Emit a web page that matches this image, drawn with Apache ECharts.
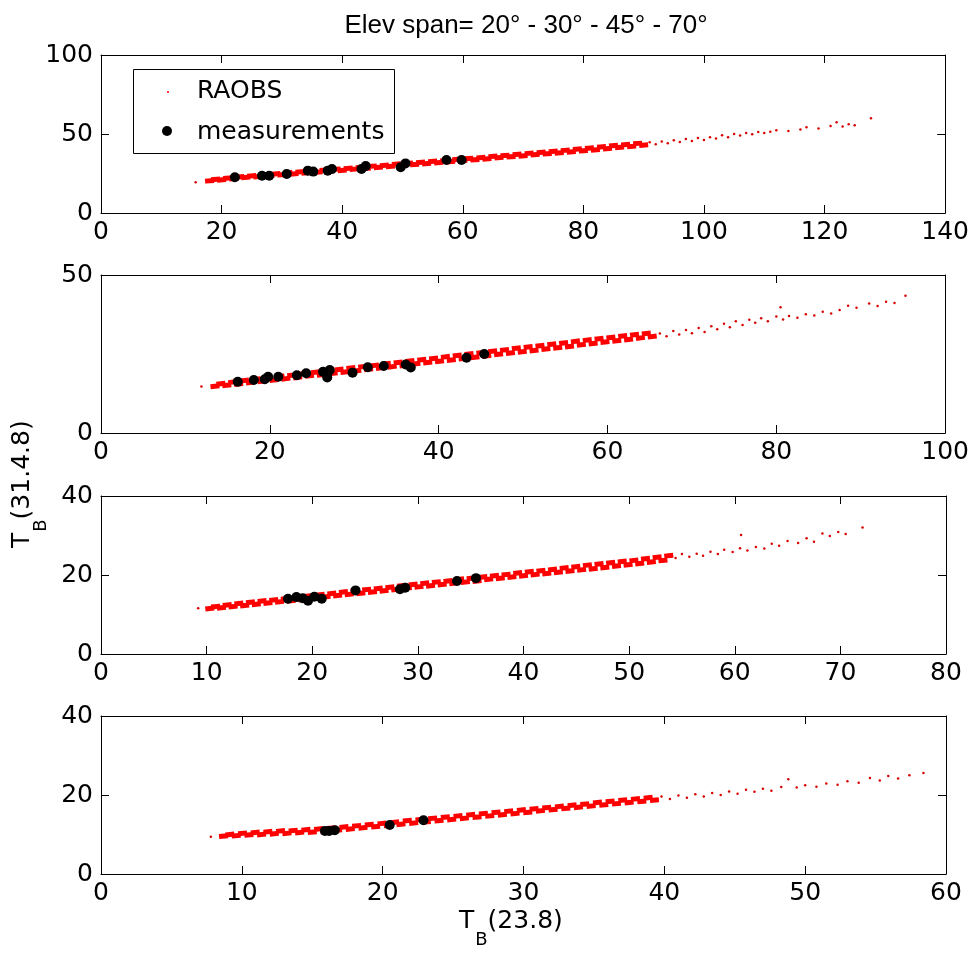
<!DOCTYPE html>
<html>
<head>
<meta charset="utf-8">
<script src="https://cdn.jsdelivr.net/npm/echarts@6/dist/echarts.min.js"></script>
<style>html,body{margin:0;padding:0;background:#fff;}#chart{width:972px;height:954px;}</style>
</head>
<body>
<div id="chart"></div>
<script>
// ---------------- DATA ----------------
const titleText = 'Elev span= 20° - 30° - 45° - 70°';
const xAxisMax = [140, 100, 80, 60];
const xAxisStep = [20, 20, 10, 10];
const yAxisMax = [100, 50, 40, 40];
const yAxisStep = [50, 50, 20, 20];

// Panel 1 RAOBS (dense core, then sparse tail)
const raobsDense1 = [[18,20.4],[19,21.3],[20,21.0],[21,22.1],[22,21.8],[23,22.9],[24,22.5],[25,23.5],[26,23.0],[27,24.1],[28,23.7],[29,24.8],[30,24.2],[31,25.4],[32,24.8],[33,26.0],[34,25.4],[35,26.5],[36,25.9],[37,27.1],[38,26.5],[39,27.7],[40,27.0],[41,28.3],[42,27.7],[43,28.9],[44,28.2],[45,29.6],[46,28.9],[47,30.2],[48,29.5],[49,30.9],[50,30.1],[51,31.4],[52,30.7],[53,32.1],[54,31.3],[55,32.7],[56,31.9],[57,33.2],[58,32.5],[59,33.9],[60,33.1],[61,34.5],[62,33.7],[63,35.1],[64,34.3],[65,35.8],[66,35.0],[67,36.4],[68,35.6],[69,37.1],[70,36.2],[71,37.8],[72,36.9],[73,38.4],[74,37.5],[75,39.0],[76,38.0],[77,39.7],[78,38.7],[79,40.4],[80,39.4],[81,41.1],[82,40.0],[83,41.8],[84,40.8],[85,42.6],[86,41.5],[87,43.3],[88,42.1],[89,44.0],[90,42.9]];
const raobsSparse1 = [[15.7,19.4],[91,44.8],[92,43.5],[93,45.2],[94,44.1],[95,46.0],[96,45.0],[97,46.8],[98,45.6],[99,47.5],[100,46.2],[101,48.0],[102,47.1],[103,49.2],[104,48.0],[105,50.0],[106,49.1],[107,50.6],[108,49.8],[109,51.2],[110,50.6],[111,51.4],[112,52.3],[114,51.9],[116,52.8],[117,54.2],[119,53.5],[121,55.0],[122,57.5],[123,54.8],[124,56.2],[125,55.5],[127.7,59.9]];
const meas1 = [[22.2,22.6],[26.7,23.6],[27.9,23.6],[30.8,24.7],[34.3,26.8],[35.2,26.2],[37.6,26.8],[38.3,27.8],[43.2,27.8],[43.9,29.7],[49.7,28.9],[50.5,31.4],[57.3,33.5],[59.8,33.5]];

// Panel 2
const raobsDense2 = [[13.5,14.8],[14.2,15.6],[14.9,15.1],[15.6,16.1],[16.3,15.5],[17.0,16.6],[17.7,16.0],[18.4,17.0],[19.1,16.4],[19.8,17.5],[20.5,16.8],[21.2,17.9],[21.9,17.2],[22.6,18.3],[23.3,17.6],[24.0,18.8],[24.7,18.1],[25.4,19.2],[26.1,18.4],[26.8,19.7],[27.5,18.9],[28.2,20.1],[28.9,19.3],[29.6,20.6],[30.3,19.7],[31.0,21.0],[31.7,20.2],[32.4,21.4],[33.1,20.6],[33.8,21.9],[34.5,21.0],[35.2,22.3],[35.9,21.4],[36.6,22.8],[37.3,21.9],[38.0,23.2],[38.7,22.3],[39.4,23.6],[40.1,22.7],[40.8,24.1],[41.5,23.1],[42.2,24.5],[42.9,23.6],[43.6,25.0],[44.3,24.0],[45.0,25.4],[45.7,24.4],[46.4,25.9],[47.1,24.9],[47.8,26.3],[48.5,25.3],[49.2,26.8],[49.9,25.7],[50.6,27.2],[51.3,26.1],[52.0,27.6],[52.7,26.6],[53.4,28.1],[54.1,27.0],[54.8,28.5],[55.5,27.4],[56.2,29.0],[56.9,27.9],[57.6,29.4],[58.3,28.3],[59.0,29.8],[59.7,28.8],[60.4,30.2],[61.1,29.2],[61.8,30.7],[62.5,29.6],[63.2,31.1],[63.9,30.1],[64.6,31.5],[65.3,30.5]];
const raobsSparse2 = [[11.9,14.7],[66.2,31.5],[67,30.6],[67.8,32.3],[68.5,31.2],[69.3,32.6],[70,31.6],[70.8,33.2],[71.5,32.0],[72.3,33.8],[73,32.8],[73.8,34.6],[74.5,33.5],[75.2,35.4],[76,34.2],[76.8,35.8],[77.5,34.9],[78.2,36.3],[79,35.4],[80,36.9],[80.5,39.8],[80.8,35.9],[81.5,37.0],[82.5,36.5],[83.5,37.6],[84.5,37.2],[85.5,38.4],[86.5,37.8],[87.5,38.9],[88.5,40.3],[89.5,39.6],[91,41.0],[92,40.2],[93,41.5],[94,41.1],[95.3,43.4]];
const meas2 = [[16.2,16.2],[18.1,16.8],[19.4,17.0],[19.8,17.8],[21.0,17.8],[23.2,18.3],[24.3,18.9],[26.3,19.4],[26.8,19.0],[26.8,17.6],[27.1,19.9],[29.8,19.1],[31.6,20.8],[33.5,21.2],[36.1,21.7],[36.7,20.7],[43.3,23.8],[45.4,25.0]];

// Panel 3
const raobsDense3 = [[10.3,11.5],[10.85,12.0],[11.4,11.7],[11.95,12.4],[12.5,12.0],[13.05,12.8],[13.6,12.3],[14.15,13.1],[14.7,12.6],[15.25,13.4],[15.8,12.9],[16.35,13.7],[16.9,13.2],[17.45,14.0],[18.0,13.5],[18.55,14.4],[19.1,13.8],[19.65,14.7],[20.2,14.1],[20.75,15.0],[21.3,14.5],[21.85,15.3],[22.4,14.8],[22.95,15.7],[23.5,15.1],[24.05,16.0],[24.6,15.4],[25.15,16.3],[25.7,15.7],[26.25,16.6],[26.8,16.0],[27.35,16.9],[27.9,16.3],[28.45,17.3],[29.0,16.7],[29.55,17.6],[30.1,17.0],[30.65,17.9],[31.2,17.3],[31.75,18.2],[32.3,17.6],[32.85,18.5],[33.4,17.9],[33.95,18.9],[34.5,18.2],[35.05,19.2],[35.6,18.5],[36.15,19.5],[36.7,18.9],[37.25,19.8],[37.8,19.2],[38.35,20.1],[38.9,19.5],[39.45,20.5],[40.0,19.8],[40.55,20.8],[41.1,20.1],[41.65,21.1],[42.2,20.4],[42.75,21.4],[43.3,20.7],[43.85,21.8],[44.4,21.0],[44.95,22.1],[45.5,21.3],[46.05,22.5],[46.6,21.6],[47.15,22.8],[47.7,21.9],[48.25,23.1],[48.8,22.3],[49.35,23.4],[49.9,22.6],[50.45,23.7],[51.0,22.9],[51.55,24.1],[52.1,23.3],[52.65,24.5],[53.2,23.7],[53.75,24.9]];
const raobsSparse3 = [[9.2,11.6],[54.4,24.3],[55.0,25.3],[55.7,24.6],[56.4,25.4],[57.0,24.9],[57.7,25.9],[58.4,25.3],[59.0,26.4],[59.8,25.8],[60.5,26.8],[60.6,30.1],[61.2,26.2],[62.0,27.1],[62.8,26.7],[63.5,27.9],[64.2,27.4],[65.0,28.6],[66.0,28.1],[66.8,29.3],[67.5,28.4],[68.3,30.5],[69.0,29.9],[69.8,30.9],[70.5,30.4],[72.1,32.0]];
const meas3 = [[17.7,14.0],[18.5,14.4],[19.1,14.1],[19.6,13.5],[20.2,14.5],[20.9,14.0],[24.1,16.1],[28.3,16.4],[28.8,16.8],[33.7,18.5],[35.5,19.2]];

// Panel 4
const raobsDense4 = [[8.7,9.6],[9.15,10.0],[9.6,9.7],[10.05,10.3],[10.5,9.9],[10.95,10.5],[11.4,10.0],[11.85,10.7],[12.3,10.2],[12.75,10.9],[13.2,10.3],[13.65,11.0],[14.1,10.5],[14.55,11.2],[15.0,10.6],[15.45,11.4],[15.9,10.8],[16.35,11.6],[16.8,11.1],[17.25,11.9],[17.7,11.4],[18.15,12.2],[18.6,11.7],[19.05,12.5],[19.5,12.0],[19.95,12.8],[20.4,12.3],[20.85,13.1],[21.3,12.6],[21.75,13.5],[22.2,12.9],[22.65,13.8],[23.1,13.2],[23.55,14.1],[24.0,13.5],[24.45,14.4],[24.9,13.8],[25.35,14.7],[25.8,14.1],[26.25,15.0],[26.7,14.4],[27.15,15.3],[27.6,14.7],[28.05,15.6],[28.5,15.0],[28.95,15.9],[29.4,15.3],[29.85,16.2],[30.3,15.6],[30.75,16.5],[31.2,16.0],[31.65,16.8],[32.1,16.3],[32.55,17.1],[33.0,16.6],[33.45,17.4],[33.9,16.9],[34.35,17.7],[34.8,17.2],[35.25,18.1],[35.7,17.5],[36.15,18.4],[36.6,17.8],[37.05,18.7],[37.5,18.1],[37.95,19.0],[38.4,18.4],[38.85,19.3],[39.3,18.7]];
const raobsSparse4 = [[7.8,9.4],[39.8,19.6],[40.4,19.0],[41.0,19.9],[41.6,19.3],[42.2,20.2],[42.8,19.6],[43.4,20.5],[44.0,20.0],[44.6,20.9],[45.2,20.3],[45.8,21.3],[46.4,20.8],[47.0,21.6],[47.6,21.1],[48.3,22.0],[48.8,24.0],[49.4,21.9],[50.0,22.5],[50.8,22.1],[51.5,22.9],[52.3,22.6],[53.0,23.5],[53.8,23.1],[54.6,24.3],[55.3,23.7],[55.9,24.8],[56.6,24.2],[57.4,25.0],[58.4,25.6]];
const meas4 = [[15.9,10.9],[16.2,10.9],[16.6,11.1],[20.5,12.4],[22.9,13.6]];

// ---------------- BUILD ----------------
const denseSets = [raobsDense1, raobsDense2, raobsDense3, raobsDense4];
const sparseSets = [raobsSparse1, raobsSparse2, raobsSparse3, raobsSparse4];
const measSets = [meas1, meas2, meas3, meas4];
const bandTilt = [4.5, 6.6, 6.2, 5.5]; // style: orientation of the band marks (deg)

const FONT = '"DejaVu Sans", Verdana, sans-serif';
const TITLE_FONT = '"Liberation Sans", Arial, sans-serif';
const gridTops = [55, 275, 496, 716];
const GRID_LEFT = 101, GRID_W = 845, GRID_H = 158;

const grids = [], xAxes = [], yAxes = [], series = [];
const axisLine = { show: true, onZero: false, lineStyle: { color: '#000', width: 1 } };
const axisTick = { show: true, inside: true, length: 8, lineStyle: { color: '#000', width: 1 } };
const label = { fontSize: 25, color: '#000', fontFamily: FONT };

for (let i = 0; i < 4; i++) {
  grids.push({ left: GRID_LEFT, top: gridTops[i], width: GRID_W, height: GRID_H });
  const xb = { gridIndex: i, type: 'value', min: 0, max: xAxisMax[i], interval: xAxisStep[i] };
  const yb = { gridIndex: i, type: 'value', min: 0, max: yAxisMax[i], interval: yAxisStep[i] };
  xAxes.push(Object.assign({}, xb, { position: 'bottom', axisLine, axisTick, splitLine: { show: false },
    axisLabel: Object.assign({ margin: 7 }, label) }));
  xAxes.push(Object.assign({}, xb, { position: 'top', axisLine, axisTick, splitLine: { show: false },
    axisLabel: { show: false } }));
  yAxes.push(Object.assign({}, yb, { position: 'left', axisLine, axisTick, splitLine: { show: false },
    axisLabel: Object.assign({ margin: 8 }, label) }));
  yAxes.push(Object.assign({}, yb, { position: 'right', axisLine, axisTick, splitLine: { show: false },
    axisLabel: { show: false } }));
  series.push({ name: 'RAOBS', type: 'scatter', xAxisIndex: 2 * i, yAxisIndex: 2 * i, data: denseSets[i],
    symbol: 'rect', symbolSize: [9, 5], symbolRotate: bandTilt[i],
    itemStyle: { color: '#ff0000', opacity: 1 }, silent: true, z: 2 });
  series.push({ name: 'RAOBS', type: 'scatter', xAxisIndex: 2 * i, yAxisIndex: 2 * i, data: sparseSets[i],
    symbol: 'circle', symbolSize: 2.5, itemStyle: { color: '#d80000', opacity: 1 }, silent: true, z: 2 });
  series.push({ name: 'measurements', type: 'scatter', xAxisIndex: 2 * i, yAxisIndex: 2 * i, data: measSets[i],
    symbol: 'circle', symbolSize: 10, itemStyle: { color: '#000', opacity: 1 }, silent: true, z: 3 });
}

const mainRich = {
  m: { fontSize: 25, lineHeight: 28, fontFamily: FONT, color: '#000', verticalAlign: 'top' },
  s: { fontSize: 18, lineHeight: 19, fontFamily: FONT, color: '#000', verticalAlign: 'top', padding: [22, 0, 0, 1] }
};

const graphic = [
  // legend box
  { type: 'rect', shape: { x: 133.5, y: 69.5, width: 261, height: 84 },
    style: { fill: '#fff', stroke: '#000', lineWidth: 1 }, z: 100 },
  { type: 'circle', shape: { cx: 168, cy: 92, r: 1 }, style: { fill: '#ff0000' }, z: 101 },
  { type: 'circle', shape: { cx: 167, cy: 131, r: 5 }, style: { fill: '#000' }, z: 101 },
  { type: 'text', x: 197, y: 91, style: { text: 'RAOBS', fontSize: 25, fontFamily: FONT, fill: '#000',
    align: 'left', verticalAlign: 'middle' }, z: 101 },
  { type: 'text', x: 197, y: 132, style: { text: 'measurements', fontSize: 25, fontFamily: FONT, fill: '#000',
    align: 'left', verticalAlign: 'middle' }, z: 101 },
  // x axis label
  { type: 'text', x: 459, y: 909, style: { text: '{m|T}{s|B}{m|(23.8)}', rich: mainRich,
    align: 'left', verticalAlign: 'top' }, z: 101 },
  // y axis label (rotated)
  { type: 'text', x: 10, y: 548, rotation: Math.PI / 2, style: { text: '{m|T}{s|B}{m|(31.4.8)}', rich: mainRich,
    align: 'left', verticalAlign: 'top' }, z: 101 }
];

const option = {
  animation: false,
  backgroundColor: '#fff',
  title: { text: titleText, left: 521, top: 8, textAlign: 'center',
    textStyle: { fontSize: 26, fontWeight: 'normal', color: '#000', fontFamily: TITLE_FONT } },
  grid: grids,
  xAxis: xAxes,
  yAxis: yAxes,
  series: series,
  graphic: graphic
};

const chart = echarts.init(document.getElementById('chart'), null, { renderer: 'canvas' });
chart.setOption(option);
</script>
</body>
</html>
